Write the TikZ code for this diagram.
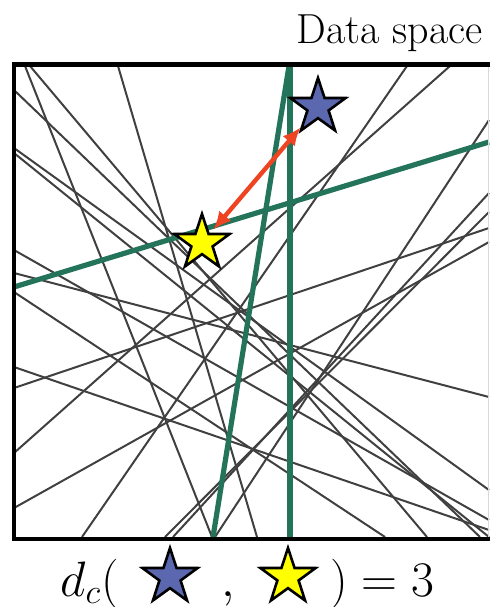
\documentclass[tikz,border=0pt]{standalone}
\usepackage{tikz}
\usetikzlibrary{arrows.meta,shapes.geometric}
\definecolor{raygray}{HTML}{404040}
\definecolor{cutgreen}{HTML}{23745A}
\definecolor{arrowred}{HTML}{EE4422}
\definecolor{starblue}{HTML}{5B68B0}
\definecolor{staryellow}{HTML}{FFFF00}
\tikzset{
  ray/.style={draw=raygray, line width=1pt},
  cut/.style={draw=cutgreen, line width=2.6pt},
  frame/.style={draw=black, line width=2.3pt},
  point/.style={
    star, star points=5, star point ratio=2.6,
    minimum size=29pt, inner sep=0pt,
    draw=black, line width=1.3pt
  },
  dist/.style={draw=arrowred, line width=2.2pt,
    {Latex[length=9pt,width=8pt]}-{Latex[length=9pt,width=8pt]}},
  lbl/.style={inner sep=0pt, font=\fontsize{25}{30}\selectfont}
}

\begin{document}
\begin{tikzpicture}[x=0.5pt,y=-0.5pt]
  \path[use as bounding box] (0,0) rectangle (490,607);

  \draw[ray] (25,66) -- (212,537);
  \draw[ray] (30,66) -- (427,537);
  \draw[ray] (118,66) -- (257,537);
  \draw[ray] (14,90) -- (480,537);
  \draw[ray] (14,148) -- (489,490);
  \draw[ray] (14,153) -- (489,537);
  \draw[ray] (14,250) -- (489,520);
  \draw[ray] (14,273) -- (489,397);
  \draw[ray] (14,292) -- (385,537);
  \draw[ray] (14,367) -- (489,530);
  \draw[ray] (82,537) -- (407,66);
  \draw[ray] (14,453) -- (450,66);
  \draw[ray] (14,388) -- (489,228);
  \draw[ray] (14,508) -- (489,242);
  \draw[ray] (165,537) -- (489,212);
  \draw[ray] (173,537) -- (489,193);
  \draw[ray] (215,537) -- (489,120);

  \draw[cut] (290,66) -- (290,537);
  \draw[cut] (289,66) -- (213,537);
  \draw[cut] (14,287) -- (489,142);

  \draw[draw=black!15, line width=0.6pt] (488.5,64) -- (488.5,539);
  \draw[frame] (490,64.5) -- (14,64.5) -- (14,539) -- (490,539);

  \node[anchor=base east, inner sep=0pt, font=\fontsize{21}{25}\selectfont]
    (title) at (483,43) {Data space};

  \node[point, fill=starblue] (blue) at (318,107) {};
  \node[point, fill=staryellow] (yellow) at (202,243) {};
  \draw[dist, shorten <=2pt, shorten >=0pt] (yellow) -- (blue);

  \node[lbl, anchor=base west] (dleft) at (60,596) {$d_c($};
  \node[point, fill=starblue] (keyblue) at (170,577) {};
  \node[lbl, anchor=base] (comma) at (228,596) {$,$};
  \node[point, fill=staryellow] (keyyellow) at (288,577) {};
  \node[lbl, anchor=base west] (dright) at (330,596) {$)=3$};
\end{tikzpicture}
\end{document}
